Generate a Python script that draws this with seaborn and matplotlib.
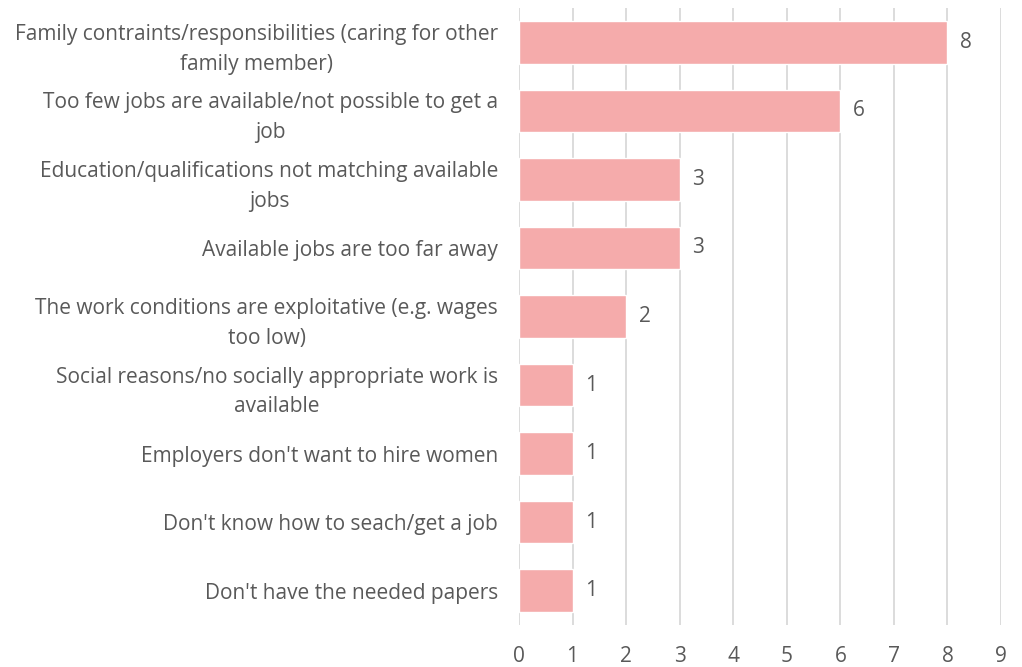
import matplotlib
matplotlib.use("Agg")
import matplotlib.pyplot as plt
import seaborn as sns
import pandas as pd

# Reasons for not working, with counts of respondents
reasons = [
    "Family contraints/responsibilities (caring for other\nfamily member)",
    "Too few jobs are available/not possible to get a\njob",
    "Education/qualifications not matching available\njobs",
    "Available jobs are too far away",
    "The work conditions are exploitative (e.g. wages\ntoo low)",
    "Social reasons/no socially appropriate work is\navailable",
    "Employers don't want to hire women",
    "Don't know how to seach/get a job",
    "Don't have the needed papers",
]
counts = [8, 6, 3, 3, 2, 1, 1, 1, 1]
x_ticks = list(range(0, 10))

df = pd.DataFrame({"reason": reasons, "count": counts})

sns.set_theme(style="white")
plt.rcParams["font.family"] = ["Open Sans", "DejaVu Sans"]

text_color = "#595959"
bar_color = "#F5ABAB"
grid_color = "#D9D9D9"
fs = 15

fig = plt.figure(figsize=(10.22, 6.67), dpi=100)
ax = fig.add_axes([519 / 1022, 1 - 625 / 667, (1001 - 519) / 1022, (625 - 8) / 667])

sns.barplot(data=df, x="count", y="reason", orient="h", color=bar_color,
            saturation=1, width=0.62, ax=ax, zorder=3)

ax.set_xlim(0, 9)
ax.set_ylim(len(reasons) - 0.5, -0.5)
ax.set_xticks(x_ticks)
ax.set_xlabel("")
ax.set_ylabel("")

ax.grid(axis="x", color=grid_color, linewidth=1.3, zorder=0)
ax.grid(axis="y", visible=False)
for s in ax.spines.values():
    s.set_visible(False)

ax.tick_params(axis="x", length=0, pad=15, labelsize=fs, labelcolor=text_color)
ax.tick_params(axis="y", length=0, pad=15, labelsize=fs, labelcolor=text_color)
for lab in ax.get_yticklabels():
    lab.set_multialignment("center")
    lab.set_linespacing(1.55)

for cont in ax.containers:
    ax.bar_label(cont, labels=[str(v) for v in counts], padding=9,
                 fontsize=fs, color=text_color)

fig.savefig("out.png", dpi=100)
